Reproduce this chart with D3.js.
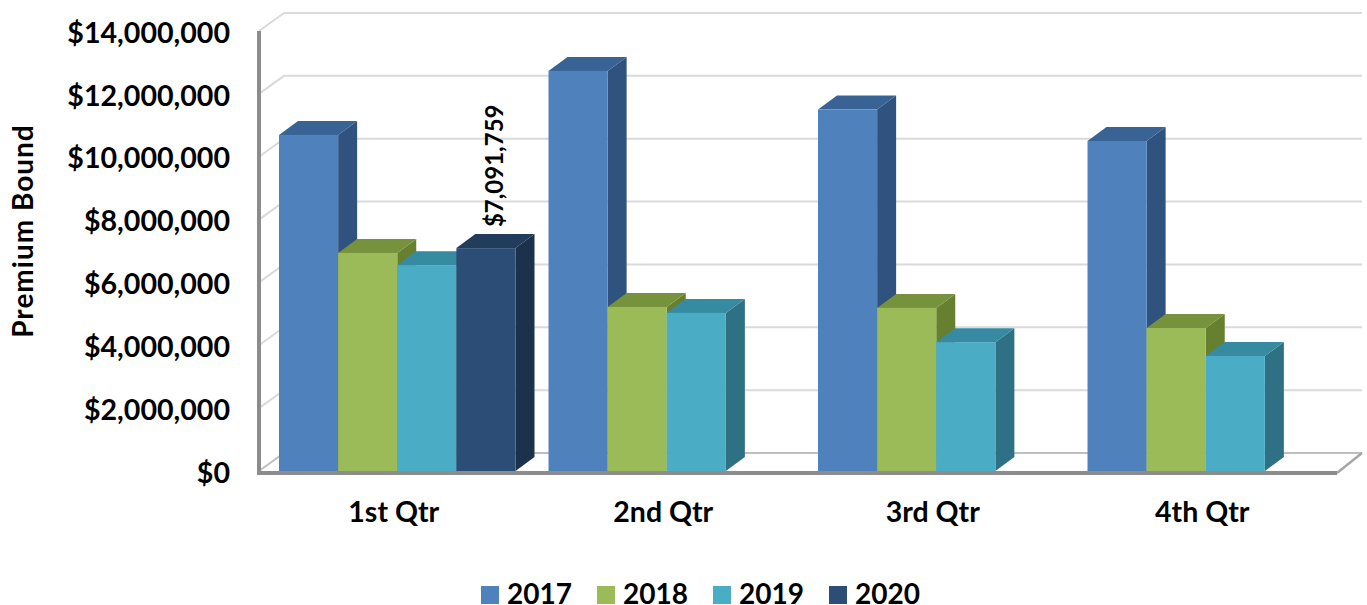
<!DOCTYPE html>
<html>
<head>
<meta charset="utf-8">
<title>Premium Bound</title>
<script src="https://cdn.jsdelivr.net/npm/d3@7"></script>
<style>
  html, body { margin: 0; padding: 0; background: #fff; }
  svg { display: block; }
  text { font-family: Lato, "Open Sans", sans-serif; font-weight: 700; fill: #000; }
  .domain { display: none; }
</style>
</head>
<body>
<svg id="svg"></svg>
<script>
// values
const quarters = ["1st Qtr", "2nd Qtr", "3rd Qtr", "4th Qtr"];
const years = ["2017", "2018", "2019", "2020"];
const values2017 = [10690000, 12730000, 11500000, 10500000];
const values2018 = [6940000, 5220000, 5190000, 4550000];
const values2019 = [6550000, 5030000, 4100000, 3660000];
const values2020 = [7091759, null, null, null];
const yTicks = [0, 2000000, 4000000, 6000000, 8000000, 10000000, 12000000, 14000000];

const frontColors = ["#4f81bd", "#9bbb59", "#4bacc6", "#2c4d75"];
const topColors = ["#3a6395", "#76923c", "#368ba3", "#223c5c"];
const sideColors = ["#30527e", "#67802f", "#2e7184", "#1c314c"];

const w = 1367;
const h = 605;

const svg = d3.select("#svg").attr("width", w).attr("height", h);

const allValues = [values2017, values2018, values2019, values2020];

const y = d3.scaleLinear().domain([0, 14000000]).range([471, 31]);
const x = d3.scaleBand().domain(quarters).range([259, 1337]);
const xBar = d3.scaleBand().domain(years).range([20, 256.5]);

// depth of the walls and of the bars
const wallDx = 25, wallDy = 18;
const barDx = 19, barDy = 14;

// back wall and side wall gridlines
const grid = svg.append("g");
yTicks.forEach(function (t) {
  grid.append("path")
    .attr("d", d3.line()([
      [x.range()[0], y(t)],
      [x.range()[0] + wallDx, y(t) - wallDy],
      [x.range()[1] + wallDx, y(t) - wallDy]
    ]))
    .attr("fill", "none")
    .attr("stroke", t === 0 ? "#bfbfbf" : "#dadada")
    .attr("stroke-width", 2);
});

// floor edge on the right
svg.append("line")
  .attr("x1", x.range()[1]).attr("y1", y(0) + 2)
  .attr("x2", x.range()[1] + wallDx).attr("y2", y(0) - wallDy)
  .attr("stroke", "#a6a6a6")
  .attr("stroke-width", 2.5);

// axis bars
svg.append("line")
  .attr("x1", x.range()[0]).attr("y1", y(14000000))
  .attr("x2", x.range()[0]).attr("y2", y(0) + 4)
  .attr("stroke", "#8c8c8c")
  .attr("stroke-width", 4);

svg.append("line")
  .attr("x1", x.range()[0] - 2).attr("y1", y(0) + 2)
  .attr("x2", x.range()[1]).attr("y2", y(0) + 2)
  .attr("stroke", "#8c8c8c")
  .attr("stroke-width", 4);

// 3d bars, left to right so later fronts cover earlier sides
quarters.forEach(function (q, i) {
  const g = svg.append("g").attr("transform", "translate(" + x(q) + ",0)");
  years.forEach(function (yr, s) {
    const v = allValues[s][i];
    if (v === null) return;
    const x0 = xBar(yr);
    const x1 = x0 + xBar.bandwidth();
    const yt = y(v);
    const yb = y(0);
    g.append("path")
      .attr("d", d3.line()([[x1, yt], [x1 + barDx, yt - barDy], [x1 + barDx, yb - barDy], [x1, yb]]) + "Z")
      .attr("fill", sideColors[s]);
    g.append("path")
      .attr("d", d3.line()([[x0, yt], [x0 + barDx, yt - barDy], [x1 + barDx, yt - barDy], [x1, yt]]) + "Z")
      .attr("fill", topColors[s]);
    g.append("rect")
      .attr("x", x0).attr("y", yt)
      .attr("width", xBar.bandwidth()).attr("height", yb - yt)
      .attr("fill", frontColors[s]);
  });
});

// data label of the one labelled bar
const labelX = x(quarters[0]) + xBar("2020") + xBar.bandwidth() / 2 + 17;
svg.append("text")
  .attr("transform", "translate(" + labelX + "," + (y(values2020[0]) - 21) + ") rotate(-90)")
  .attr("font-size", 24)
  .text(d3.format("$,")(values2020[0]));

// axes
const yAxis = d3.axisLeft(y)
  .tickValues(yTicks)
  .tickSize(0)
  .tickPadding(29)
  .tickFormat(d3.format("$,"));

svg.append("g")
  .attr("transform", "translate(259,2)")
  .call(yAxis)
  .selectAll("text")
  .attr("font-size", 28.6);

const xAxis = d3.axisBottom(x).tickSize(0).tickPadding(29);

svg.append("g")
  .attr("transform", "translate(0,473)")
  .call(xAxis)
  .selectAll("text")
  .attr("font-size", 28.5);

svg.append("text")
  .attr("transform", "translate(33,231) rotate(-90)")
  .attr("text-anchor", "middle")
  .attr("font-size", 28)
  .attr("letter-spacing", 1)
  .text("Premium Bound");

// legend
const legendX = d3.scalePoint().domain(years).range([481, 829]);
const legend = svg.append("g");
years.forEach(function (yr, s) {
  legend.append("rect")
    .attr("x", legendX(yr)).attr("y", 586)
    .attr("width", 18).attr("height", 18)
    .attr("fill", frontColors[s]);
  legend.append("text")
    .attr("x", legendX(yr) + 26).attr("y", 603.5)
    .attr("font-size", 28)
    .text(yr);
});
</script>
</body>
</html>
